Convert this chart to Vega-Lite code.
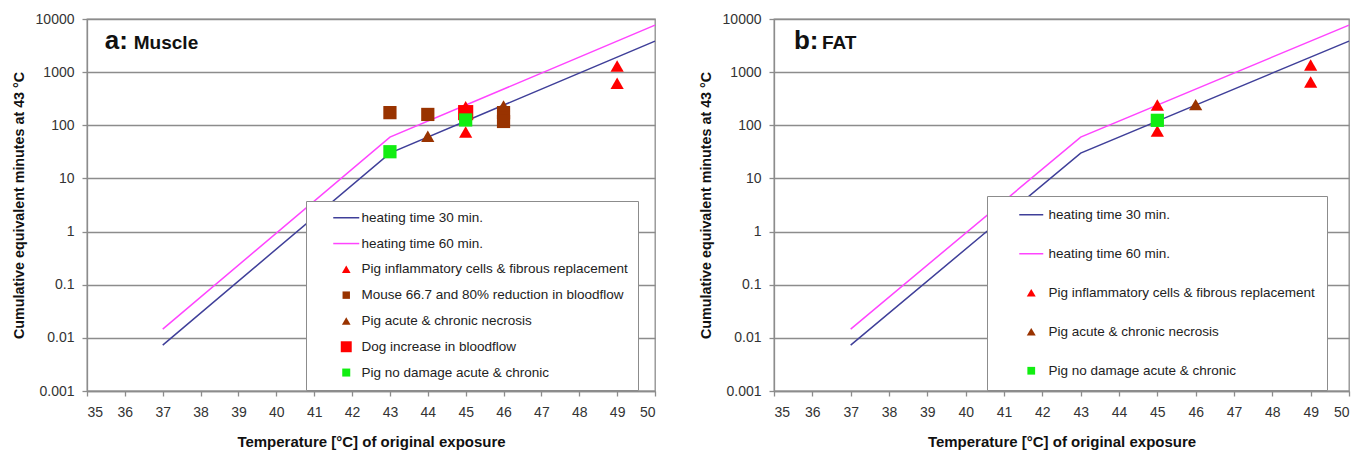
{
  "$schema": "https://vega.github.io/schema/vega-lite/v6.json",
  "background": "white",
  "padding": {"left": 11, "top": 11, "right": 0, "bottom": 0},
  "config": {
    "font": "Liberation Sans",
    "view": {"stroke": "#8c8c8c", "strokeWidth": 1.3},
    "concat": {"spacing": 39},
    "axis": {
      "domainColor": "#8c8c8c", "domainWidth": 1.3,
      "tickColor": "#8c8c8c", "tickWidth": 1.3, "tickSize": 5,
      "gridColor": "#8c8c8c", "gridWidth": 1.3,
      "labelFont": "Liberation Sans", "labelFontSize": 14, "labelColor": "#333333",
      "titleFont": "Liberation Sans", "titleFontWeight": "bold", "titleColor": "#111111"
    },
    "axisX": {"titleFontSize": 15, "labelPadding": 9, "titlePadding": 15},
    "axisY": {"titleFontSize": 14.3, "labelPadding": 8, "titlePadding": 9},
    "legend": {"labelFont": "Liberation Sans"}
  },
  "datasets": {
    "curves": [
      {"series": "heating time 30 min.", "temp": 37, "cem43": 0.00732},
      {"series": "heating time 30 min.", "temp": 43, "cem43": 30},
      {"series": "heating time 30 min.", "temp": 50, "cem43": 3840},
      {"series": "heating time 60 min.", "temp": 37, "cem43": 0.0146},
      {"series": "heating time 60 min.", "temp": 43, "cem43": 60},
      {"series": "heating time 60 min.", "temp": 50, "cem43": 7680}
    ],
    "muscle": [
      {"series": "Dog increase in bloodflow", "temp": 45, "cem43": 173},
      {"series": "Mouse 66.7 and 80% reduction in bloodflow", "temp": 43, "cem43": 173},
      {"series": "Mouse 66.7 and 80% reduction in bloodflow", "temp": 44, "cem43": 160},
      {"series": "Mouse 66.7 and 80% reduction in bloodflow", "temp": 46, "cem43": 173},
      {"series": "Mouse 66.7 and 80% reduction in bloodflow", "temp": 46, "cem43": 118},
      {"series": "Pig acute & chronic necrosis", "temp": 44, "cem43": 62},
      {"series": "Pig acute & chronic necrosis", "temp": 46, "cem43": 231},
      {"series": "Pig inflammatory cells & fibrous replacement", "temp": 45, "cem43": 224},
      {"series": "Pig inflammatory cells & fibrous replacement", "temp": 45, "cem43": 75},
      {"series": "Pig inflammatory cells & fibrous replacement", "temp": 49, "cem43": 1306},
      {"series": "Pig inflammatory cells & fibrous replacement", "temp": 49, "cem43": 617},
      {"series": "Pig no damage acute & chronic", "temp": 43, "cem43": 31.8},
      {"series": "Pig no damage acute & chronic", "temp": 45, "cem43": 126}
    ],
    "fat": [
      {"series": "Pig acute & chronic necrosis", "temp": 46, "cem43": 245},
      {"series": "Pig inflammatory cells & fibrous replacement", "temp": 45, "cem43": 241},
      {"series": "Pig inflammatory cells & fibrous replacement", "temp": 45, "cem43": 78},
      {"series": "Pig inflammatory cells & fibrous replacement", "temp": 49, "cem43": 1360},
      {"series": "Pig inflammatory cells & fibrous replacement", "temp": 49, "cem43": 652},
      {"series": "Pig no damage acute & chronic", "temp": 45, "cem43": 124}
    ],
    "labelsA": [{"big": "a:", "small": "Muscle"}],
    "labelsB": [{"big": "b:", "small": "FAT"}]
  },
  "resolve": {
    "scale": {"x": "independent", "y": "independent", "color": "independent", "shape": "independent"},
    "legend": {"color": "independent", "shape": "independent"}
  },
  "hconcat": [
    {
      "width": 568,
      "height": 372,
      "layer": [
        {
          "data": {"name": "curves"},
          "mark": {"type": "line", "strokeWidth": 1.5},
          "encoding": {
            "x": {"field": "temp", "type": "quantitative", "scale": {"domain": [35, 50], "nice": false, "zero": false},
                  "axis": {"title": "Temperature [°C] of original exposure", "values": [35,36,37,38,39,40,41,42,43,44,45,46,47,48,49,50], "format": "d", "grid": false}},
            "y": {"field": "cem43", "type": "quantitative", "scale": {"type": "log", "domain": [0.001, 10000], "nice": false},
                  "axis": {"title": "Cumulative equivalent minutes at 43 °C", "values": [0.001,0.01,0.1,1,10,100,1000,10000], "format": "~g", "grid": true}},
            "color": {"field": "series", "type": "nominal",
              "scale": {"domain": ["heating time 30 min.", "heating time 60 min.", "Pig inflammatory cells & fibrous replacement", "Mouse 66.7 and 80% reduction in bloodflow", "Pig acute & chronic necrosis", "Dog increase in bloodflow", "Pig no damage acute & chronic"],
                        "range": ["#3f3f99", "#ff44ff", "#ff0000", "#993300", "#993300", "#ff0000", "#11ee11"]},
              "legend": {
                "title": null, "orient": "none", "legendX": 219, "legendY": 182,
                "fillColor": "white", "strokeColor": "#8c8c8c", "padding": 10,
                "symbolSize": 676, "symbolOffset": 23.5, "labelOffset": 8.5, "rowPadding": 10.8,
                "labelFontSize": 13.5, "labelColor": "#222222", "labelLimit": 400,
                "encode": {"symbols": {"update": {
                  "size": {"signal": "[676,676,75,55,75,120,64][indexof(['heating time 30 min.','heating time 60 min.','Pig inflammatory cells & fibrous replacement','Mouse 66.7 and 80% reduction in bloodflow','Pig acute & chronic necrosis','Dog increase in bloodflow','Pig no damage acute & chronic'], datum.value)]"},
                  "stroke": {"signal": "['#3f3f99','#ff44ff','#ff0000','#993300','#993300','#ff0000','#11ee11'][indexof(['heating time 30 min.','heating time 60 min.','Pig inflammatory cells & fibrous replacement','Mouse 66.7 and 80% reduction in bloodflow','Pig acute & chronic necrosis','Dog increase in bloodflow','Pig no damage acute & chronic'], datum.value)]"},
                  "fill": {"signal": "['transparent','transparent','#ff0000','#993300','#993300','#ff0000','#11ee11'][indexof(['heating time 30 min.','heating time 60 min.','Pig inflammatory cells & fibrous replacement','Mouse 66.7 and 80% reduction in bloodflow','Pig acute & chronic necrosis','Dog increase in bloodflow','Pig no damage acute & chronic'], datum.value)]"},
                  "strokeWidth": {"signal": "indexof(['heating time 30 min.','heating time 60 min.'], datum.value) >= 0 ? 1.5 : 0"},
                  "opacity": {"value": 1}
                }}}
              }}
          }
        },
        {
          "data": {"name": "muscle"},
          "transform": [{"filter": "datum.series === 'Dog increase in bloodflow'"}],
          "mark": {"type": "point", "filled": true, "opacity": 1, "size": 230},
          "encoding": {
            "x": {"field": "temp", "type": "quantitative",
                  "axis": {"title": "Temperature [°C] of original exposure", "values": [35,36,37,38,39,40,41,42,43,44,45,46,47,48,49,50], "format": "d", "grid": false}},
            "y": {"field": "cem43", "type": "quantitative",
                  "axis": {"title": "Cumulative equivalent minutes at 43 °C", "values": [0.001,0.01,0.1,1,10,100,1000,10000], "format": "~g", "grid": true}},
            "color": {"field": "series", "type": "nominal"},
            "shape": {"field": "series", "type": "nominal",
              "scale": {"domain": ["heating time 30 min.", "heating time 60 min.", "Pig inflammatory cells & fibrous replacement", "Mouse 66.7 and 80% reduction in bloodflow", "Pig acute & chronic necrosis", "Dog increase in bloodflow", "Pig no damage acute & chronic"],
                        "range": ["stroke", "stroke", "triangle-up", "square", "triangle-up", "square", "square"]}}
          }
        },
        {
          "data": {"name": "muscle"},
          "transform": [{"filter": "datum.series !== 'Dog increase in bloodflow'"}],
          "mark": {"type": "point", "filled": true, "opacity": 1, "size": 175},
          "encoding": {
            "x": {"field": "temp", "type": "quantitative",
                  "axis": {"title": "Temperature [°C] of original exposure", "values": [35,36,37,38,39,40,41,42,43,44,45,46,47,48,49,50], "format": "d", "grid": false}},
            "y": {"field": "cem43", "type": "quantitative",
                  "axis": {"title": "Cumulative equivalent minutes at 43 °C", "values": [0.001,0.01,0.1,1,10,100,1000,10000], "format": "~g", "grid": true}},
            "color": {"field": "series", "type": "nominal"},
            "shape": {"field": "series", "type": "nominal"}
          }
        },
        {
          "data": {"name": "labelsA"},
          "mark": {"type": "text", "fontSize": 26, "fontWeight": "bold", "align": "left", "baseline": "alphabetic", "color": "#111111"},
          "encoding": {
            "x": {"datum": 35.47, "type": "quantitative",
                  "axis": {"title": "Temperature [°C] of original exposure", "values": [35,36,37,38,39,40,41,42,43,44,45,46,47,48,49,50], "format": "d", "grid": false}},
            "y": {"datum": 2720, "type": "quantitative",
                  "axis": {"title": "Cumulative equivalent minutes at 43 °C", "values": [0.001,0.01,0.1,1,10,100,1000,10000], "format": "~g", "grid": true}},
            "text": {"field": "big"}}
        },
        {
          "data": {"name": "labelsA"},
          "mark": {"type": "text", "fontSize": 19, "fontWeight": "bold", "align": "left", "baseline": "alphabetic", "dx": 29, "color": "#111111"},
          "encoding": {
            "x": {"datum": 35.47, "type": "quantitative",
                  "axis": {"title": "Temperature [°C] of original exposure", "values": [35,36,37,38,39,40,41,42,43,44,45,46,47,48,49,50], "format": "d", "grid": false}},
            "y": {"datum": 2720, "type": "quantitative",
                  "axis": {"title": "Cumulative equivalent minutes at 43 °C", "values": [0.001,0.01,0.1,1,10,100,1000,10000], "format": "~g", "grid": true}},
            "text": {"field": "small"}}
        }
      ]
    },
    {
      "width": 575,
      "height": 372,
      "layer": [
        {
          "data": {"name": "curves"},
          "mark": {"type": "line", "strokeWidth": 1.5},
          "encoding": {
            "x": {"field": "temp", "type": "quantitative", "scale": {"domain": [35, 50], "nice": false, "zero": false},
                  "axis": {"title": "Temperature [°C] of original exposure", "values": [35,36,37,38,39,40,41,42,43,44,45,46,47,48,49,50], "format": "d", "grid": false}},
            "y": {"field": "cem43", "type": "quantitative", "scale": {"type": "log", "domain": [0.001, 10000], "nice": false},
                  "axis": {"title": "Cumulative equivalent minutes at 43 °C", "values": [0.001,0.01,0.1,1,10,100,1000,10000], "format": "~g", "grid": true}},
            "color": {"field": "series", "type": "nominal",
              "scale": {"domain": ["heating time 30 min.", "heating time 60 min.", "Pig inflammatory cells & fibrous replacement", "Pig acute & chronic necrosis", "Pig no damage acute & chronic"],
                        "range": ["#3f3f99", "#ff44ff", "#ff0000", "#993300", "#11ee11"]},
              "legend": {
                "title": null, "orient": "none", "legendX": 213, "legendY": 177,
                "fillColor": "white", "strokeColor": "#8c8c8c", "padding": 12,
                "symbolSize": 576, "symbolOffset": 25.5, "labelOffset": 10.5, "rowPadding": 24,
                "labelFontSize": 13.5, "labelColor": "#222222", "labelLimit": 400,
                "encode": {"symbols": {"update": {
                  "size": {"signal": "[576,576,80,80,60][indexof(['heating time 30 min.','heating time 60 min.','Pig inflammatory cells & fibrous replacement','Pig acute & chronic necrosis','Pig no damage acute & chronic'], datum.value)]"},
                  "stroke": {"signal": "['#3f3f99','#ff44ff','#ff0000','#993300','#11ee11'][indexof(['heating time 30 min.','heating time 60 min.','Pig inflammatory cells & fibrous replacement','Pig acute & chronic necrosis','Pig no damage acute & chronic'], datum.value)]"},
                  "fill": {"signal": "['transparent','transparent','#ff0000','#993300','#11ee11'][indexof(['heating time 30 min.','heating time 60 min.','Pig inflammatory cells & fibrous replacement','Pig acute & chronic necrosis','Pig no damage acute & chronic'], datum.value)]"},
                  "strokeWidth": {"signal": "indexof(['heating time 30 min.','heating time 60 min.'], datum.value) >= 0 ? 1.5 : 0"},
                  "opacity": {"value": 1}
                }}}
              }}
          }
        },
        {
          "data": {"name": "fat"},
          "mark": {"type": "point", "filled": true, "opacity": 1, "size": 175},
          "encoding": {
            "x": {"field": "temp", "type": "quantitative",
                  "axis": {"title": "Temperature [°C] of original exposure", "values": [35,36,37,38,39,40,41,42,43,44,45,46,47,48,49,50], "format": "d", "grid": false}},
            "y": {"field": "cem43", "type": "quantitative",
                  "axis": {"title": "Cumulative equivalent minutes at 43 °C", "values": [0.001,0.01,0.1,1,10,100,1000,10000], "format": "~g", "grid": true}},
            "color": {"field": "series", "type": "nominal"},
            "shape": {"field": "series", "type": "nominal",
              "scale": {"domain": ["heating time 30 min.", "heating time 60 min.", "Pig inflammatory cells & fibrous replacement", "Pig acute & chronic necrosis", "Pig no damage acute & chronic"],
                        "range": ["stroke", "stroke", "triangle-up", "triangle-up", "square"]}}
          }
        },
        {
          "data": {"name": "labelsB"},
          "mark": {"type": "text", "fontSize": 26, "fontWeight": "bold", "align": "left", "baseline": "alphabetic", "color": "#111111"},
          "encoding": {
            "x": {"datum": 35.52, "type": "quantitative",
                  "axis": {"title": "Temperature [°C] of original exposure", "values": [35,36,37,38,39,40,41,42,43,44,45,46,47,48,49,50], "format": "d", "grid": false}},
            "y": {"datum": 2720, "type": "quantitative",
                  "axis": {"title": "Cumulative equivalent minutes at 43 °C", "values": [0.001,0.01,0.1,1,10,100,1000,10000], "format": "~g", "grid": true}},
            "text": {"field": "big"}}
        },
        {
          "data": {"name": "labelsB"},
          "mark": {"type": "text", "fontSize": 19, "fontWeight": "bold", "align": "left", "baseline": "alphabetic", "dx": 28, "color": "#111111"},
          "encoding": {
            "x": {"datum": 35.52, "type": "quantitative",
                  "axis": {"title": "Temperature [°C] of original exposure", "values": [35,36,37,38,39,40,41,42,43,44,45,46,47,48,49,50], "format": "d", "grid": false}},
            "y": {"datum": 2720, "type": "quantitative",
                  "axis": {"title": "Cumulative equivalent minutes at 43 °C", "values": [0.001,0.01,0.1,1,10,100,1000,10000], "format": "~g", "grid": true}},
            "text": {"field": "small"}}
        }
      ]
    }
  ]
}
